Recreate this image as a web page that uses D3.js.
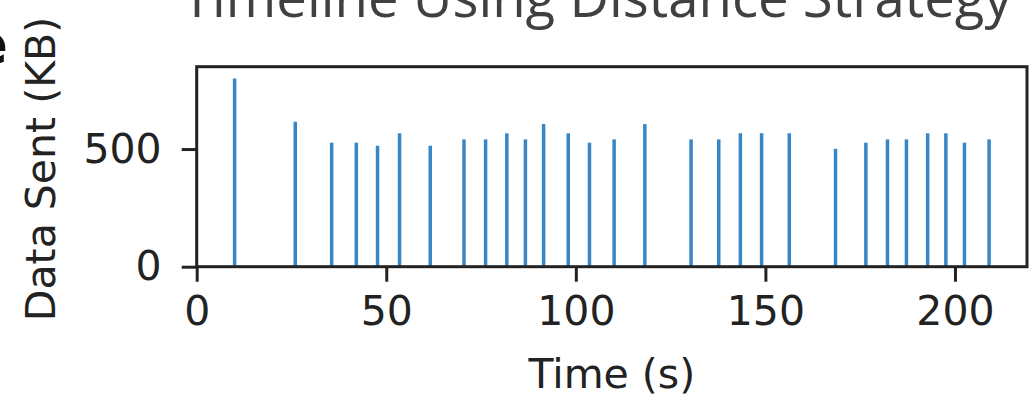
<!DOCTYPE html>
<html>
<head>
<meta charset="utf-8">
<script src="https://cdn.jsdelivr.net/npm/d3@7"></script>
<style>
  body { margin: 0; background: #fff; }
  svg { display: block; }
</style>
</head>
<body>
<svg id="chart" width="1029" height="396"></svg>
<script>
  // ========== 数据 ==========
  const times = [10, 26, 35.6, 42.1, 47.7, 53.5, 61.6, 70.5, 76.2, 81.8,
                 86.7, 91.5, 98.0, 103.6, 110.1, 118.2, 130.4, 137.7, 143.4, 149.0,
                 156.3, 168.5, 176.5, 182.2, 187.2, 192.8, 197.6, 202.5, 209.0];
  const dataSent = [800, 616, 527, 527, 514, 567, 514, 541, 541, 567,
                    541, 606, 567, 527, 541, 606, 541, 541, 567, 567,
                    567, 501, 527, 541, 541, 567, 567, 527, 541];
  const xTicks = [0, 50, 100, 150, 200];
  const yTicks = [0, 500];
  const xDomain = [0, 219];
  const yDomain = [0, 850];

  const svg = d3.select('#chart');
  const margin = { left: 196.7, top: 66.7, right: 2, bottom: 129.3 };
  const width = 1029 - margin.left - margin.right;
  const height = 396 - margin.top - margin.bottom;

  const x = d3.scaleLinear().domain(xDomain).range([0, width]);
  const y = d3.scaleLinear().domain(yDomain).range([height, 0]);

  const tickFont = '41px "DejaVu Sans", sans-serif';
  const axisColor = '#222';

  // 左边被裁掉的半个字母
  svg.append('text')
    .attr('x', 8).attr('y', 63)
    .attr('text-anchor', 'end')
    .style('font', 'bold 56px "DejaVu Sans", sans-serif')
    .style('fill', '#111')
    .text('e');

  // 标题 (顶部被裁掉)
  const title = svg.append('text')
    .attr('x', 182).attr('y', 16.7)
    .style('font', '48px "Open Sans", sans-serif')
    .style('fill', '#404040')
    .text('Timeline Using Distance Strategy');
  const tw = title.node().getComputedTextLength();
  title.style('font-size', (48 * 830 / tw) + 'px');

  const g = svg.append('g')
    .attr('transform', `translate(${margin.left},${margin.top})`);

  // 竖线
  g.append('g')
    .selectAll('line')
    .data(times)
    .enter()
    .append('line')
    .attr('x1', d => x(d))
    .attr('x2', d => x(d))
    .attr('y1', y(0))
    .attr('y2', (d, i) => y(dataSent[i]))
    .attr('stroke', '#3a86c4')
    .attr('stroke-width', 3.5);

  // 坐标轴
  const xAxis = g.append('g')
    .attr('transform', `translate(0,${height})`)
    .call(d3.axisBottom(x).tickValues(xTicks).tickFormat(d3.format('d'))
      .tickSize(15).tickPadding(14));

  const yAxis = g.append('g')
    .call(d3.axisLeft(y).tickValues(yTicks).tickFormat(d3.format('d'))
      .tickSize(15).tickPadding(20));

  [xAxis, yAxis].forEach(a => {
    a.select('.domain').remove();
    a.selectAll('.tick line').attr('stroke', axisColor).attr('stroke-width', 3);
    a.selectAll('.tick text').style('font', tickFont).style('fill', '#222');
  });

  // 边框
  g.append('rect')
    .attr('x', 0).attr('y', 0)
    .attr('width', width).attr('height', height)
    .attr('fill', 'none')
    .attr('stroke', axisColor)
    .attr('stroke-width', 3);

  // 轴标签
  svg.append('text')
    .attr('transform', 'translate(55,169) rotate(-90)')
    .attr('text-anchor', 'middle')
    .style('font', '41px "DejaVu Sans", sans-serif')
    .style('fill', '#222')
    .text('Data Sent (KB)');

  svg.append('text')
    .attr('x', margin.left + x(109.5))
    .attr('y', 388)
    .attr('text-anchor', 'middle')
    .style('font', '41px "DejaVu Sans", sans-serif')
    .style('fill', '#222')
    .text('Time (s)');
</script>
</body>
</html>
